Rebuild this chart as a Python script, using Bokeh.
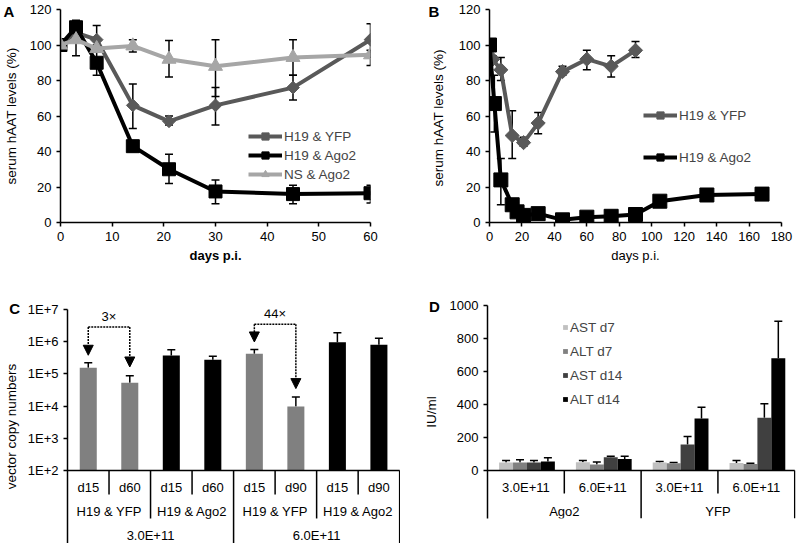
from bokeh.plotting import figure
from bokeh.models import (Range1d, ColumnDataSource, Whisker, TeeHead, Legend, LegendItem,
                          Label, FixedTicker, CustomJSTickFormatter, Arrow, NormalHead)
from bokeh.layouts import row, column
from bokeh.embed import file_html
from bokeh.resources import INLINE
from bokeh.core.properties import value
import numpy as np

FONT = "Liberation Sans"

# ---------------- Panel A data ----------------
A_days = [0, 3, 7, 14, 21, 30, 45, 60]
A_yfp = [100, 107, 103, 66, 57, 66, 76, 103]
A_yfp_lo = [100, 102, 97, 53, 55, 55, 69, 93]
A_yfp_hi = [100, 112, 111, 78, 60, 76, 83, 112]
A_ago2 = [100, 110, 90, 43, 30, 17.5, 16, 16.5]
A_ago2_lo = [100, 106, 83, 40, 22, 10.5, 10.5, 11]
A_ago2_hi = [100, 114, 96, 46, 38.5, 24, 21, 21]
A_ns = [100, 103, 98, 99.5, 92, 88, 93, 94.5]
A_ns_lo = [100, 94, 96, 96, 82, 71, 83, 88.5]
A_ns_hi = [100, 106, 100, 103, 102.5, 103, 103, 97]

# ---------------- Panel B data ----------------
B_yfp_days = [2, 7, 14, 21, 30, 45, 60, 75, 90]
B_yfp = [92, 86, 49, 45, 56, 85, 92, 88, 97]
B_yfp_lo = [90, 80, 36, 43, 50, 83, 86, 82, 93]
B_yfp_hi = [94, 93, 63, 48, 62, 88, 97, 94, 102]
B_ago2_days = [0, 3, 7, 14, 17, 21, 30, 45, 60, 75, 90, 105, 134, 168]
B_ago2 = [100, 67, 24, 10, 6, 4, 5, 1.5, 3, 3.5, 4.5, 12, 15.5, 16]
B_ago2_lo = [100, 51, 10, 8, 4, 3, 4, 0.5, 2, 2.5, 3.5, 9, 14, 15]
B_ago2_hi = [100, 83, 36, 12, 8, 5, 6, 2.5, 4, 4.5, 5.5, 15, 17, 17]

# ---------------- Panel C data ----------------
C_day = ["d15", "d60", "d15", "d60", "d15", "d90", "d15", "d90"]
C_group = ["H19 & YFP", "H19 & YFP", "H19 & Ago2", "H19 & Ago2",
           "H19 & YFP", "H19 & YFP", "H19 & Ago2", "H19 & Ago2"]
C_dose = ["3.0E+11"] * 4 + ["6.0E+11"] * 4
C_values = [1.55e5, 5.3e4, 3.7e5, 2.75e5, 4.2e5, 9.6e3, 9.6e5, 8.1e5]
C_err_top = [2.2e5, 8.7e4, 5.6e5, 3.5e5, 5.7e5, 1.9e4, 1.9e6, 1.27e6]
C_fold = [("3×", 0, 1), ("44×", 4, 5)]

# ---------------- Panel D data ----------------
D_dose = ["3.0E+11", "6.0E+11", "3.0E+11", "6.0E+11"]
D_vector = ["Ago2", "Ago2", "YFP", "YFP"]
D_series = ["AST d7", "ALT d7", "AST d14", "ALT d14"]
D_values = {
    "AST d7": [48, 50, 48, 46],
    "ALT d7": [48, 36, 44, 40],
    "AST d14": [48, 81, 158, 319],
    "ALT d14": [55, 69, 315, 681],
}
D_err_top = {
    "AST d7": [60, 60, 55, 60],
    "ALT d7": [65, 52, 48, 44],
    "AST d14": [60, 87, 206, 404],
    "ALT d14": [77, 87, 384, 905],
}
D_colors = ["#c0c0c0", "#808080", "#404040", "#000000"]

# ---------------- layout geometry (reference pixel frame -> page) ----------------
W, H = 797, 543
SX, SY = W / 797, H / 543
TOP_H = round(270 * SY)
BOT_H = H - TOP_H
LEFT_W = round(400 * SX)
RIGHT_W = W - LEFT_W


def borders(fig_w, fig_h, col_off, row_off, l, r, t, b):
    L = round((l - col_off) * SX)
    R = fig_w - round((r - col_off) * SX)
    T = round((t - row_off) * SY)
    B = fig_h - round((b - row_off) * SY)
    return dict(min_border_left=L, min_border_right=max(R, 0), min_border_top=T,
                min_border_bottom=max(B, 0))


def style(p):
    p.outline_line_color = None
    p.xgrid.visible = False
    p.ygrid.visible = False
    try:
        p.frame_align = False
    except Exception:
        pass
    for ax in p.axis:
        ax.axis_line_width = 1.5
        ax.major_tick_line_width = 1.5
        ax.major_tick_out = 4
        ax.major_tick_in = 0
        ax.minor_tick_line_color = None
        ax.major_label_text_font = FONT
        ax.major_label_text_font_size = "13px"
        ax.major_label_text_color = "black"
        ax.major_label_standoff = 5
        ax.axis_label_text_font = FONT
        ax.axis_label_text_font_size = "13px"
        ax.axis_label_text_font_style = "normal"
        ax.axis_label_text_color = "black"
    for ax in p.yaxis:
        ax.axis_label_text_font_size = "13.5px"


def letter(p, txt, x, y, side):
    # placed in a side panel (not clipped to the frame), positioned in data units
    p.add_layout(Label(x=x, y=y, text=txt, text_font=FONT, text_font_size="15px",
                       text_font_style="bold", text_baseline="top", text_align="left",
                       text_color="black"), side)


def series(p, x, y, lo, hi, color, marker, size, angle=0.0):
    src = ColumnDataSource(dict(x=x, y=y))
    l = p.line("x", "y", source=src, line_color=color, line_width=4)
    s = p.scatter("x", "y", source=src, marker=marker, size=size, angle=angle,
                  fill_color=color, line_color=color)
    keep = [i for i in range(len(x)) if hi[i] != lo[i]]
    wsrc = ColumnDataSource(dict(x=[x[i] for i in keep], lo=[lo[i] for i in keep],
                                 hi=[hi[i] for i in keep]))
    p.add_layout(Whisker(base="x", lower="lo", upper="hi", source=wsrc,
                         line_color="black", line_width=1.5,
                         upper_head=TeeHead(size=8, line_width=1.5, line_color="black"),
                         lower_head=TeeHead(size=8, line_width=1.5, line_color="black")))
    return [l, s]


def line_legend(p, fig_h, bd, items, ref_glyph_left, col_off, ref_bottom, row_off, spacing):
    vx = round((ref_glyph_left - col_off) * SX) - bd["min_border_left"]
    frame_bottom = fig_h - bd["min_border_bottom"]
    vy = frame_bottom - round((ref_bottom - row_off) * SY)
    leg = Legend(items=[LegendItem(label=lab, renderers=r) for lab, r in items],
                 location=(vx, vy), orientation="vertical", glyph_width=34, glyph_height=18,
                 label_height=18, spacing=spacing, padding=0, margin=0, label_standoff=2,
                 border_line_color=None, background_fill_alpha=0,
                 label_text_font=FONT, label_text_font_size="13.5px")
    p.add_layout(leg)


YFP_C, AGO_C, NS_C = "#595959", "#000000", "#a6a6a6"

# ---------------- Panel A ----------------
bA = borders(LEFT_W, TOP_H, 0, 0, 60, 370, 9.3, 222)
pA = figure(width=LEFT_W, height=TOP_H, x_range=Range1d(0, 60), y_range=Range1d(0, 120),
            output_backend="svg", toolbar_location=None, **bA)
rY = series(pA, A_days, A_yfp, A_yfp_lo, A_yfp_hi, YFP_C, "square", 9, np.pi / 4)
rA = series(pA, A_days, A_ago2, A_ago2_lo, A_ago2_hi, AGO_C, "square", 13)
rN = series(pA, A_days, A_ns, A_ns_lo, A_ns_hi, NS_C, "triangle", 14)
pA.xaxis.ticker = FixedTicker(ticks=list(range(0, 61, 10)))
pA.yaxis.ticker = FixedTicker(ticks=list(range(0, 121, 20)))
pA.xaxis.axis_label = "days p.i."
pA.yaxis.axis_label = "serum hAAT levels (%)"
style(pA)
pA.xaxis.axis_label_text_font_style = "bold"
pA.xaxis.axis_label_standoff = 4
pA.yaxis.axis_label_standoff = 8
line_legend(pA, TOP_H, bA, [("H19 & YFP", rY), ("H19 & Ago2", rA), ("NS & Ago2", rN)],
            248, 0, 182.8, 0, 1)
letter(pA, "A", (3 - 60) / 310 * 60, (222 - 2.5) / 212.7 * 120, "right")

# ---------------- Panel B ----------------
bB = borders(RIGHT_W, TOP_H, 400, 0, 489, 781, 9.3, 222)
pB = figure(width=RIGHT_W, height=TOP_H, x_range=Range1d(0, 180), y_range=Range1d(0, 120),
            output_backend="svg", toolbar_location=None, **bB)
rBY = series(pB, B_yfp_days, B_yfp, B_yfp_lo, B_yfp_hi, YFP_C, "square", 10, np.pi / 4)
rBA = series(pB, B_ago2_days, B_ago2, B_ago2_lo, B_ago2_hi, AGO_C, "square", 14)
pB.xaxis.ticker = FixedTicker(ticks=list(range(0, 181, 20)))
pB.yaxis.ticker = FixedTicker(ticks=list(range(0, 121, 20)))
pB.xaxis.axis_label = "days p.i."
pB.yaxis.axis_label = "serum  hAAT levels (%)"
style(pB)
pB.xaxis.axis_label_standoff = 4
pB.yaxis.axis_label_standoff = 10
line_legend(pB, TOP_H, bB, [("H19 & YFP", rBY), ("H19 & Ago2", rBA)],
            643, 400, 166.5, 0, round(42 * SY) - 18)
letter(pB, "B", (428 - 489) / 292 * 180, (222 - 2.5) / 212.7 * 120, "right")

# ---------------- Panel C ----------------
C_DEC = 32.14            # reference pixels per decade
C_LOW = 10 ** (2 - (543 - 470) / C_DEC)
nC = len(C_values)
bC = borders(LEFT_W, BOT_H, 0, 270, 61.7, LEFT_W / SX, 309.3, 543)
pC = figure(width=LEFT_W, height=BOT_H, x_range=Range1d(0, nC + 0.02),
            y_range=Range1d(C_LOW, 1e7), y_axis_type="log", x_axis_location=None,
            output_backend="svg", toolbar_location=None, **bC)
xc = [i + 0.5 for i in range(nC)]
ccol = ["#808080" if "YFP" in g else "#000000" for g in C_group]
pC.vbar(x=xc, top=C_values, bottom=100, width=0.41, fill_color=ccol, line_color=None)
csrc = ColumnDataSource(dict(x=xc, lo=C_values, hi=C_err_top))
pC.add_layout(Whisker(base="x", lower="lo", upper="hi", source=csrc, line_color="black",
                      line_width=1.5, lower_head=None,
                      upper_head=TeeHead(size=8, line_width=1.5, line_color="black")))
pC.yaxis.ticker = FixedTicker(ticks=[1e2, 1e3, 1e4, 1e5, 1e6, 1e7])
pC.yaxis.formatter = CustomJSTickFormatter(code="return '1E+' + Math.round(Math.log10(tick));")
pC.yaxis.axis_label = "vector copy numbers"
style(pC)
pC.yaxis.axis_label_standoff = 6


def c_y(ref_y):
    return 10 ** (2 + (470 - ref_y) / C_DEC)


pC.segment(x0=0, y0=100, x1=nC, y1=100, line_color="black", line_width=1.5)
ROW_C = [c_y(487), c_y(511), c_y(535)]
SEP_C = [c_y(494), c_y(518), C_LOW]
for k in range(1, nC + 1):
    if k == nC or C_dose[k] != C_dose[k - 1]:
        yb = SEP_C[2]
    elif C_group[k] != C_group[k - 1]:
        yb = SEP_C[1]
    else:
        yb = SEP_C[0]
    pC.segment(x0=k, y0=100, x1=k, y1=yb, line_color="black", line_width=1.5)
txt_kw = dict(text_font=value(FONT), text_font_size="13px", text_align="center",
              text_baseline="middle", text_color="black")
pC.text(x=xc, y=[ROW_C[0]] * nC, text=C_day, **txt_kw)
gx, gl = [], []
for i in range(0, nC, 2):
    gx.append(i + 1.0)
    gl.append(C_group[i])
pC.text(x=gx, y=[ROW_C[1]] * len(gx), text=gl, **txt_kw)
pC.text(x=[2.0, 6.0], y=[ROW_C[2]] * 2, text=[C_dose[0], C_dose[4]], **txt_kw)
# fold-change arrows: (horizontal, left tip, right tip, label) in reference pixel rows
FOLD_Y = [(326.7, 355, 366.7, 316.7), (324, 341.7, 388.3, 313)]
for (lab, a, b), ys in zip(C_fold, FOLD_Y):
    yh, ya, yb2, yt = [c_y(v) for v in ys]
    xa, xb = xc[a], xc[b]
    pC.segment(x0=xa, y0=yh, x1=xb, y1=yh, line_color="black", line_width=1.5, line_dash="2 1")
    for xx, yy in ((xa, ya), (xb, yb2)):
        pC.add_layout(Arrow(x_start=xx, y_start=yh, x_end=xx, y_end=yy, line_color="black",
                            line_width=1.5, line_dash="2 1",
                            end=NormalHead(size=10, fill_color="black", line_color="black",
                                           line_width=1)))
    pC.text(x=[(xa + xb) / 2], y=[yt], text=[lab], **txt_kw)
letter(pC, "C", (2 - 61.7) / 42.5, c_y(299.5), "above")

# ---------------- Panel D ----------------
D_PX = 0.165             # reference pixels per IU/ml
D_LOW = (470 - 518) / D_PX
nD = len(D_dose)
bD = borders(RIGHT_W, BOT_H, 400, 270, 486.7, 795, 305, 518)
pD = figure(width=RIGHT_W, height=BOT_H, x_range=Range1d(0, nD + 0.01), y_range=Range1d(D_LOW, 1000),
            x_axis_location=None, output_backend="svg", toolbar_location=None, **bD)
BW = 0.1815
legD = []
for j, s in enumerate(D_series):
    xs = [i + 0.514 + (j - 1.5) * BW for i in range(nD)]
    r = pD.vbar(x=xs, top=D_values[s], bottom=0, width=BW, fill_color=D_colors[j], line_color=None)
    legD.append(LegendItem(label=s, renderers=[r]))
    dsrc = ColumnDataSource(dict(x=xs, lo=D_values[s], hi=D_err_top[s]))
    pD.add_layout(Whisker(base="x", lower="lo", upper="hi", source=dsrc, line_color="black",
                          line_width=1.5, lower_head=None,
                          upper_head=TeeHead(size=8, line_width=1.5, line_color="black")))
pD.yaxis.ticker = FixedTicker(ticks=list(range(0, 1001, 200)))
pD.yaxis.axis_label = "IU/ml"
style(pD)
pD.yaxis.axis_label_standoff = 8


def d_y(ref_y):
    return (470 - ref_y) / D_PX


pD.segment(x0=-0.02, y0=0, x1=nD, y1=0, line_color="black", line_width=1.5)
ROW_D = [d_y(487), d_y(511)]
SEP_D = [d_y(493), D_LOW]
for k in range(1, nD + 1):
    yb = SEP_D[1] if (k == nD or D_vector[k] != D_vector[k - 1]) else SEP_D[0]
    pD.segment(x0=k, y0=0, x1=k, y1=yb, line_color="black", line_width=1.5)
xd = [i + 0.5 for i in range(nD)]
pD.text(x=xd, y=[ROW_D[0]] * nD, text=D_dose, **txt_kw)
pD.text(x=[1.0, 3.0], y=[ROW_D[1]] * 2, text=[D_vector[0], D_vector[2]], **txt_kw)
vxD = round((561.7 - 400) * SX) - bD["min_border_left"]
vyD = (BOT_H - bD["min_border_bottom"]) - round((409 - 270) * SY)
pD.add_layout(Legend(items=legD, location=(vxD, vyD), glyph_width=6, glyph_height=6,
                     label_height=20, spacing=round(23.7 * SY - 20), padding=0, margin=0,
                     label_standoff=2, border_line_color=None, background_fill_alpha=0,
                     label_text_font=FONT, label_text_font_size="13.5px"))
letter(pD, "D", (428 - 486.7) / 77.075, d_y(297.5), "above")

layout = column(row(pA, pB), row(pC, pD))
open("out.html", "w").write(file_html(layout, INLINE))
